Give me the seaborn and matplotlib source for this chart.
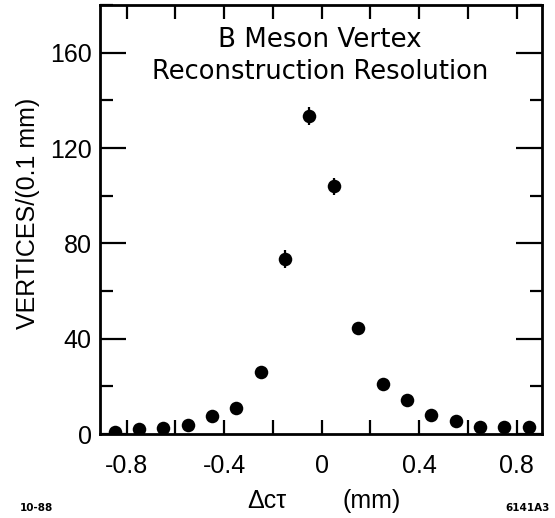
import numpy as np
import matplotlib
matplotlib.use("Agg")
import matplotlib.pyplot as plt
from matplotlib.ticker import MultipleLocator
import pandas as pd
import seaborn as sns

# bin centres (mm) and counts per 0.1 mm bin
dct = [-0.85, -0.75, -0.65, -0.55, -0.45, -0.35, -0.25, -0.15, -0.05,
       0.05, 0.15, 0.25, 0.35, 0.45, 0.55, 0.65, 0.75, 0.85]
vertices = [1, 2, 2.5, 4, 7.5, 11, 26, 73.5, 133.5,
            104, 44.5, 21, 14.5, 8, 5.5, 3, 3, 3]
# only the three peak bins show bars outside the marker
errors = [1, 1.2, 1.4, 1.6, 1.8, 2, 2.2, 3.6, 3.9,
          3.5, 2.3, 2, 1.8, 1.6, 1.4, 1.2, 1.2, 1.2]

df = pd.DataFrame({'dct': dct, 'vertices': vertices, 'err': errors})

sns.set_style("ticks")
plt.rcParams['font.family'] = ['Liberation Sans', 'DejaVu Sans']
plt.rcParams['text.color'] = 'black'
plt.rcParams['axes.labelcolor'] = 'black'

fig = plt.figure(figsize=(5.55, 5.18), dpi=100)
ax = fig.add_axes([0.180, 0.162, 0.797, 0.828])

ax.errorbar(df['dct'], df['vertices'], yerr=df['err'], fmt='none',
            ecolor='black', elinewidth=1.6, capsize=0)
sns.scatterplot(data=df, x='dct', y='vertices', ax=ax, color='black',
                s=95, edgecolor='black', linewidth=0, zorder=3)

ax.set_xlim(-0.91, 0.905)
ax.set_ylim(0, 180)
ax.yaxis.set_minor_locator(MultipleLocator(20))
ax.set_xticks([-0.8, -0.6, -0.4, -0.2, 0, 0.2, 0.4, 0.6, 0.8])
ax.set_xticklabels(['-0.8', '', '-0.4', '', '0', '', '0.4', '', '0.8'])
ax.set_yticks([0, 40, 80, 120, 160])
ax.set_yticklabels(['0', '40', '80', '120', '160'])

ax.tick_params(axis='both', which='both', direction='in', top=True, right=True,
               width=1.6, colors='black', labelsize=18)
ax.tick_params(axis='x', which='major', length=10, pad=14)
ax.tick_params(axis='y', which='major', length=19, pad=6)
ax.tick_params(axis='y', which='minor', length=9)
for sp in ax.spines.values():
    sp.set_linewidth(2)
    sp.set_color('black')

ax.set_xlabel('')
ax.set_ylabel('VERTICES/(0.1 mm)', fontsize=18, color='black')
ax.yaxis.set_label_coords(-0.135, 0.514)

ax.text(0.498, 0.902, 'B Meson Vertex', transform=ax.transAxes,
        ha='center', va='baseline', fontsize=18.8, family='DejaVu Sans',
        color='black')
ax.text(0.498, 0.8275, 'Reconstruction Resolution', transform=ax.transAxes,
        ha='center', va='baseline', fontsize=18.5, family='DejaVu Sans',
        color='black')

fig.text(0.481, 0.033, 'Δcτ', ha='center', va='center', fontsize=18)
fig.text(0.670, 0.033, '(mm)', ha='center', va='center', fontsize=18)
fig.text(0.066, 0.019, '10-88', ha='center', va='center', fontsize=7.5,
         fontweight='bold', family='DejaVu Sans')
fig.text(0.950, 0.019, '6141A3', ha='center', va='center', fontsize=7.5,
         fontweight='bold', family='DejaVu Sans')

fig.savefig('out.png', dpi=100)
